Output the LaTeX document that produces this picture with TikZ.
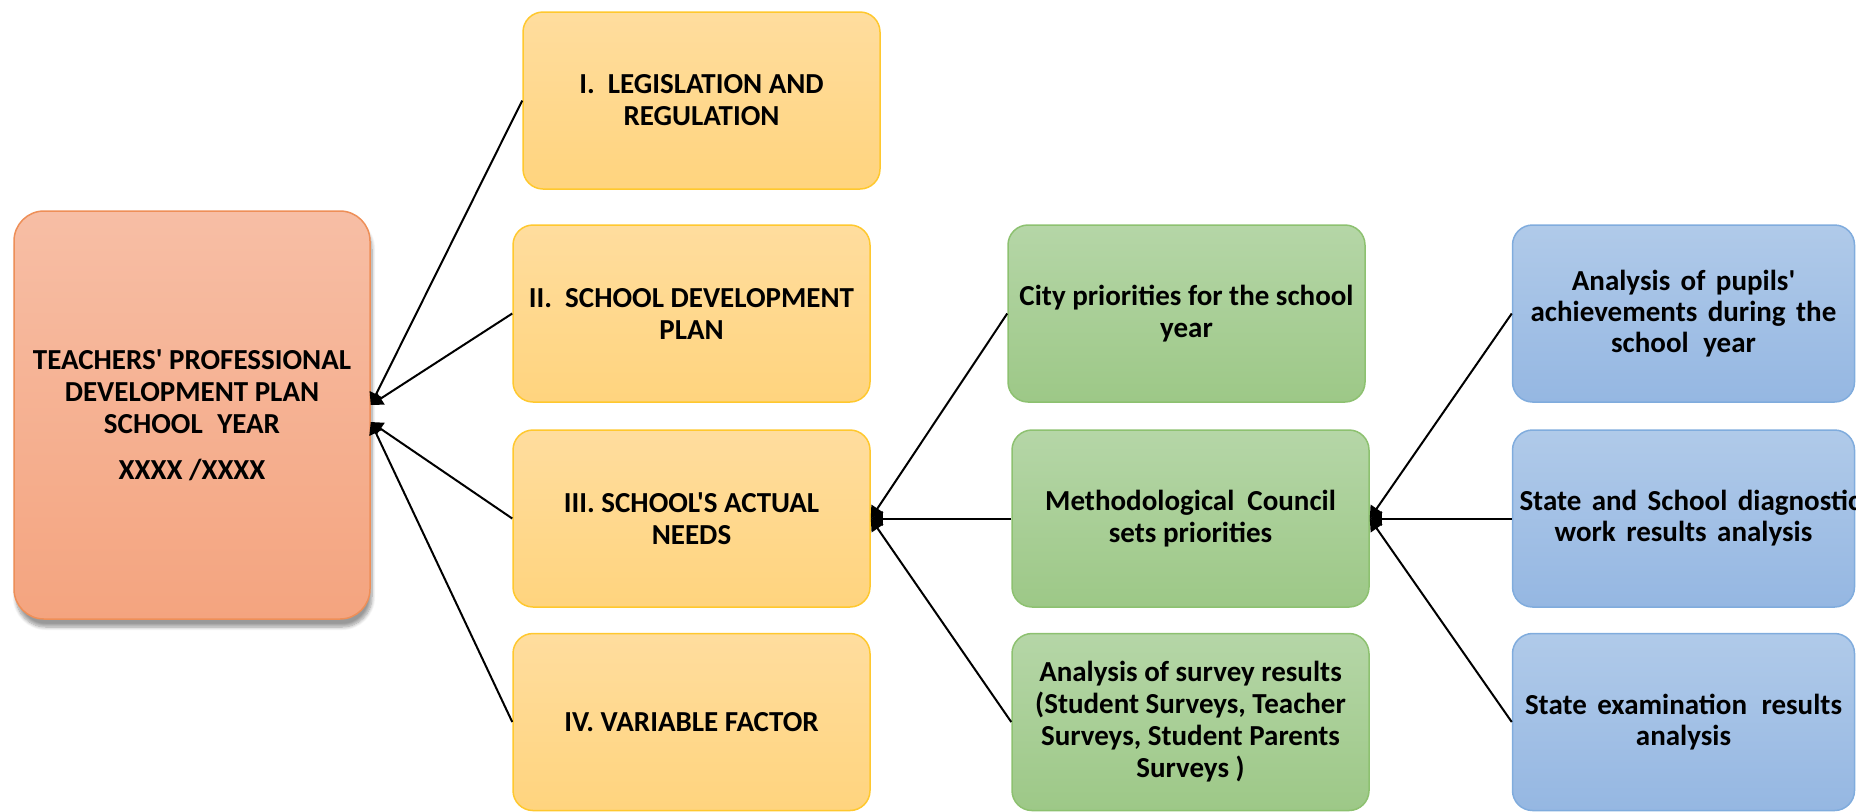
\documentclass[tikz,border=0pt]{standalone}
\usepackage{fontspec}
\newfontfamily\cf{Carlito}
\usetikzlibrary{arrows.meta,shadows.blur}
\definecolor{mainT}{HTML}{F7BEA5}
\definecolor{mainB}{HTML}{F4A47F}
\definecolor{mainD}{HTML}{EE8F58}
\definecolor{yelT}{HTML}{FFDD9E}
\definecolor{yelB}{HTML}{FFD47E}
\definecolor{yelD}{HTML}{FFC82E}
\definecolor{grnT}{HTML}{B5D6A7}
\definecolor{grnB}{HTML}{9DC887}
\definecolor{grnD}{HTML}{8DC170}
\definecolor{bluT}{HTML}{B0CAE9}
\definecolor{bluB}{HTML}{95B7E2}
\definecolor{bluD}{HTML}{80ACDD}
\newcommand\widesp{\spaceskip=0.36em\relax\hbadness=10000\hfuzz=200pt}
\tikzset{
  boxbase/.style={rectangle, rounded corners=10pt, line width=0.75pt, align=center,
    minimum width=178.5pt, minimum height=88.5pt, inner sep=2pt,
    font=\cf\bfseries\fontsize{14.5}{16}\selectfont, text=black},
  mainbox/.style={boxbase, rounded corners=15pt, minimum width=178pt, minimum height=204pt,
    top color=mainT, bottom color=mainB, draw=mainD,
    blur shadow={shadow xshift=1pt, shadow yshift=-4pt, shadow blur steps=8, shadow opacity=40}},
  yelbox/.style={boxbase, top color=yelT, bottom color=yelB, draw=yelD},
  grnbox/.style={boxbase, top color=grnT, bottom color=grnB, draw=grnD},
  blubox/.style={boxbase, minimum width=171pt, text width=164pt, top color=bluT, bottom color=bluB, draw=bluD,
    font=\cf\bfseries\fontsize{14.5}{15.5}\selectfont},
  arr/.style={draw=black, line width=1pt, -{Triangle[length=6pt,width=7pt]}}
}
\begin{document}
\begin{tikzpicture}[x=0.5pt,y=-0.5pt]
\useasboundingbox (0,0) rectangle (1856,811);
\node[mainbox] (main) at (192,415) {TEACHERS' PROFESSIONAL\\DEVELOPMENT PLAN\\SCHOOL\hspace{0.5em}YEAR\\[7pt]XXXX /XXXX};
\node[yelbox] (leg) at (701.5,100.5) {I.\hspace{0.45em}LEGISLATION AND\\REGULATION};
\node[yelbox] (sdp) at (691.5,313.5) {II.\hspace{0.45em}SCHOOL DEVELOPMENT\\PLAN};
\node[yelbox] (needs) at (691.5,518.5) {III. SCHOOL'S ACTUAL\\NEEDS};
\node[yelbox] (var) at (691.5,722) {IV. VARIABLE FACTOR};
\node[grnbox] (city) at (1186.5,313.5) {City priorities for the school\\year};
\node[grnbox] (meth) at (1190.5,518.5) {Methodological\hspace{0.45em}Council\\sets priorities};
\node[grnbox] (surv) at (1190.5,722) {Analysis of survey results\\(Student Surveys, Teacher\\Surveys, Student Parents\\Surveys )};
\node[blubox] (pup) at (1683.5,313.5) {\widesp Analysis of pupils'\\achievements during the\\school\hspace{0.5em}year};
\node[blubox] (diag) at (1683.5,518.5) {\widesp\mbox{State and School diagnostic}\\work results analysis};
\node[blubox] (exam) at (1683.5,722) {\widesp State examination\hspace{0.5em}results\\analysis};
\coordinate (mainup) at ([yshift=5pt]main.east);
\coordinate (maindn) at ([yshift=-3.5pt]main.east);
\draw[arr] (leg.west) -- (mainup);
\draw[arr] (sdp.west) -- (mainup);
\draw[arr] (needs.west) -- (maindn);
\draw[arr] (var.west) -- (maindn);
\draw[arr] (city.west) -- (needs.east);
\draw[arr] (meth.west) -- (needs.east);
\draw[arr] (surv.west) -- (needs.east);
\draw[arr] (pup.west) -- (meth.east);
\draw[arr] (diag.west) -- (meth.east);
\draw[arr] (exam.west) -- (meth.east);
\end{tikzpicture}
\end{document}
